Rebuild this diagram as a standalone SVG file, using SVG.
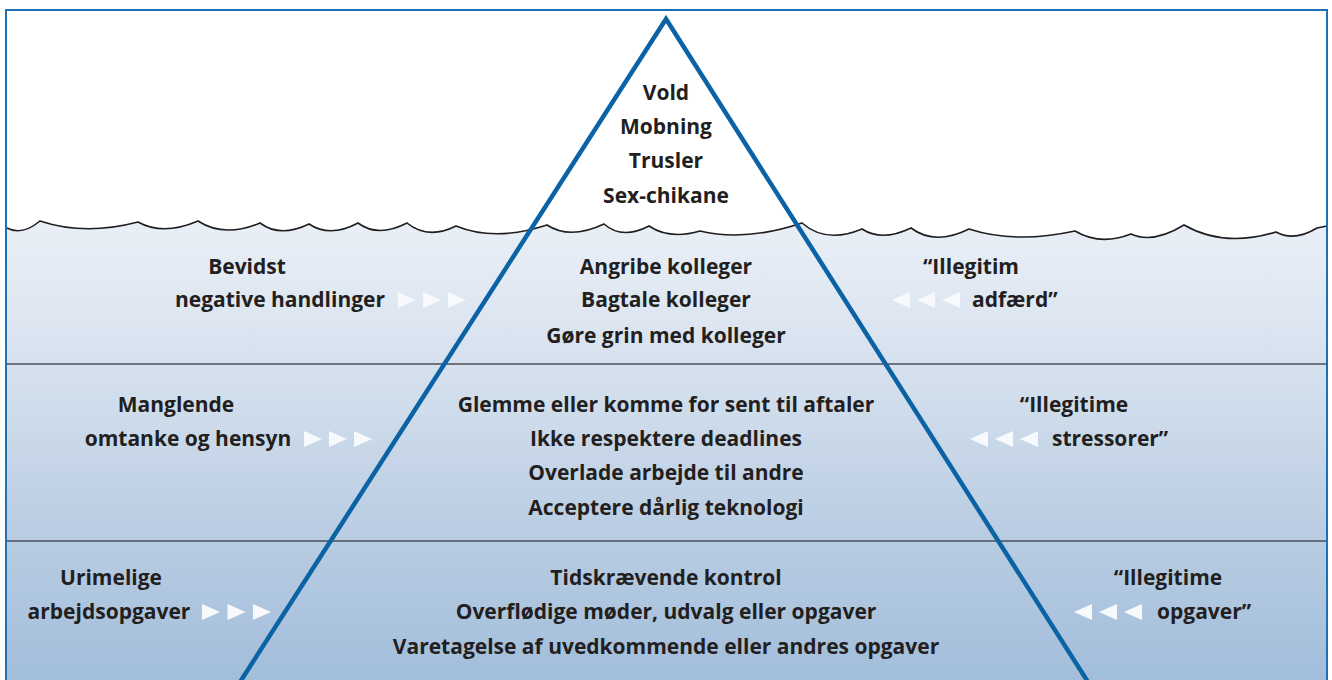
<svg xmlns="http://www.w3.org/2000/svg" xmlns:xlink="http://www.w3.org/1999/xlink" width="1332" height="680" viewBox="0 0 1332 680">
  <style>
    .t { font-family: "Open Sans", "DejaVu Sans", sans-serif; font-weight: 700; font-size: 21px; fill: #231f20; }
    .c { text-anchor: middle; }
    .sep { stroke: #4a4f57; stroke-width: 1.6; fill: none; }
    .wave { stroke: #1e1e1e; stroke-width: 1.6; fill: none; }
    .chev { fill: #f7f9fc; }
  </style>
  <defs>
    <linearGradient id="sea" x1="0" y1="215" x2="0" y2="680" gradientUnits="userSpaceOnUse">
      <stop offset="0" stop-color="#ebf0f7"/>
      <stop offset="0.33" stop-color="#d6e1ee"/>
      <stop offset="0.7" stop-color="#b8cce2"/>
      <stop offset="1" stop-color="#a2bedb"/>
    </linearGradient>
    <polygon id="rt" points="0,-8 18,0 0,8"/>
    <polygon id="lt" points="18,-8 0,0 18,8"/>
  </defs>

  <!-- sky and sea -->
  <rect x="0" y="0" width="1332" height="680" fill="#ffffff"/>
  <path id="water" fill="url(#sea)" d="M7,228 Q22,236 40,221 Q85,236 138,222 Q163,236 198,221 Q224,238 260,223 Q280,238 309,224 Q330,238 358,223 Q378,238 407,223 Q428,240 456,226 Q495,242 547,225 Q570,240 604,224 Q622,240 649,226 Q670,240 700,231 Q745,242 802,223 Q826,244 862,229 Q882,242 911,228 Q935,246 969,229 Q1015,244 1075,231 Q1100,246 1131,234 Q1153,244 1184,225 Q1224,248 1276,232 Q1294,242 1317,228 L1327,226 L1327,680 L7,680 Z"/>
  <path class="wave" d="M7,228 Q22,236 40,221 Q85,236 138,222 Q163,236 198,221 Q224,238 260,223 Q280,238 309,224 Q330,238 358,223 Q378,238 407,223 Q428,240 456,226 Q495,242 547,225 Q570,240 604,224 Q622,240 649,226 Q670,240 700,231 Q745,242 802,223 Q826,244 862,229 Q882,242 911,228 Q935,246 969,229 Q1015,244 1075,231 Q1100,246 1131,234 Q1153,244 1184,225 Q1224,248 1276,232 Q1294,242 1317,228 L1327,226"/>

  <!-- band separators -->
  <line class="sep" x1="7" y1="364" x2="1327" y2="364"/>
  <line class="sep" x1="7" y1="541" x2="1327" y2="541"/>

  <!-- iceberg outline -->
  <polyline points="240,682 666,19 1088,682" fill="none" stroke="#0b63a5" stroke-width="4.5" stroke-linejoin="miter"/>

  <!-- frame -->
  <rect x="6" y="10" width="1321" height="690" fill="none" stroke="#1f6fb4" stroke-width="2"/>

  <!-- tip: visible acts -->
  <g id="tip">
    <text class="t c" x="666" y="100">Vold</text>
    <text class="t c" x="666" y="134">Mobning</text>
    <text class="t c" x="666" y="168">Trusler</text>
    <text class="t c" x="666" y="203">Sex-chikane</text>
  </g>

  <!-- layer 1 -->
  <g id="layer1">
    <text class="t c" x="666" y="274">Angribe kolleger</text>
    <text class="t c" x="666" y="307">Bagtale kolleger</text>
    <text class="t c" x="666" y="343">Gøre grin med kolleger</text>
  </g>
  <g id="layer1-left">
    <text class="t c" x="247" y="274">Bevidst</text>
    <text class="t c" x="280" y="307">negative handlinger</text>
    <use href="#rt" class="chev" x="398" y="300"/>
    <use href="#rt" class="chev" x="423" y="300"/>
    <use href="#rt" class="chev" x="448" y="300"/>
  </g>
  <g id="layer1-right">
    <text class="t c" x="971" y="274">“Illegitim</text>
    <use href="#lt" class="chev" x="892" y="300"/>
    <use href="#lt" class="chev" x="917" y="300"/>
    <use href="#lt" class="chev" x="942" y="300"/>
    <text class="t" x="972" y="307">adfærd”</text>
  </g>

  <!-- layer 2 -->
  <g id="layer2">
    <text class="t c" x="666" y="412">Glemme eller komme for sent til aftaler</text>
    <text class="t c" x="666" y="446">Ikke respektere deadlines</text>
    <text class="t c" x="666" y="480">Overlade arbejde til andre</text>
    <text class="t c" x="666" y="515">Acceptere dårlig teknologi</text>
  </g>
  <g id="layer2-left">
    <text class="t c" x="176" y="412">Manglende</text>
    <text class="t c" x="188" y="446">omtanke og hensyn</text>
    <use href="#rt" class="chev" x="304" y="439"/>
    <use href="#rt" class="chev" x="329" y="439"/>
    <use href="#rt" class="chev" x="354" y="439"/>
  </g>
  <g id="layer2-right">
    <text class="t c" x="1074" y="412">“Illegitime</text>
    <use href="#lt" class="chev" x="970" y="439"/>
    <use href="#lt" class="chev" x="995" y="439"/>
    <use href="#lt" class="chev" x="1020" y="439"/>
    <text class="t" x="1052" y="446">stressorer”</text>
  </g>

  <!-- layer 3 -->
  <g id="layer3">
    <text class="t c" x="666" y="585">Tidskrævende kontrol</text>
    <text class="t c" x="666" y="619">Overflødige møder, udvalg eller opgaver</text>
    <text class="t c" x="666" y="654">Varetagelse af uvedkommende eller andres opgaver</text>
  </g>
  <g id="layer3-left">
    <text class="t c" x="111" y="585">Urimelige</text>
    <text class="t c" x="109" y="619">arbejdsopgaver</text>
    <use href="#rt" class="chev" x="202" y="612"/>
    <use href="#rt" class="chev" x="227.5" y="612"/>
    <use href="#rt" class="chev" x="253" y="612"/>
  </g>
  <g id="layer3-right">
    <text class="t c" x="1168" y="585">“Illegitime</text>
    <use href="#lt" class="chev" x="1074" y="612"/>
    <use href="#lt" class="chev" x="1099" y="612"/>
    <use href="#lt" class="chev" x="1124" y="612"/>
    <text class="t" x="1157" y="619">opgaver”</text>
  </g>
</svg>
